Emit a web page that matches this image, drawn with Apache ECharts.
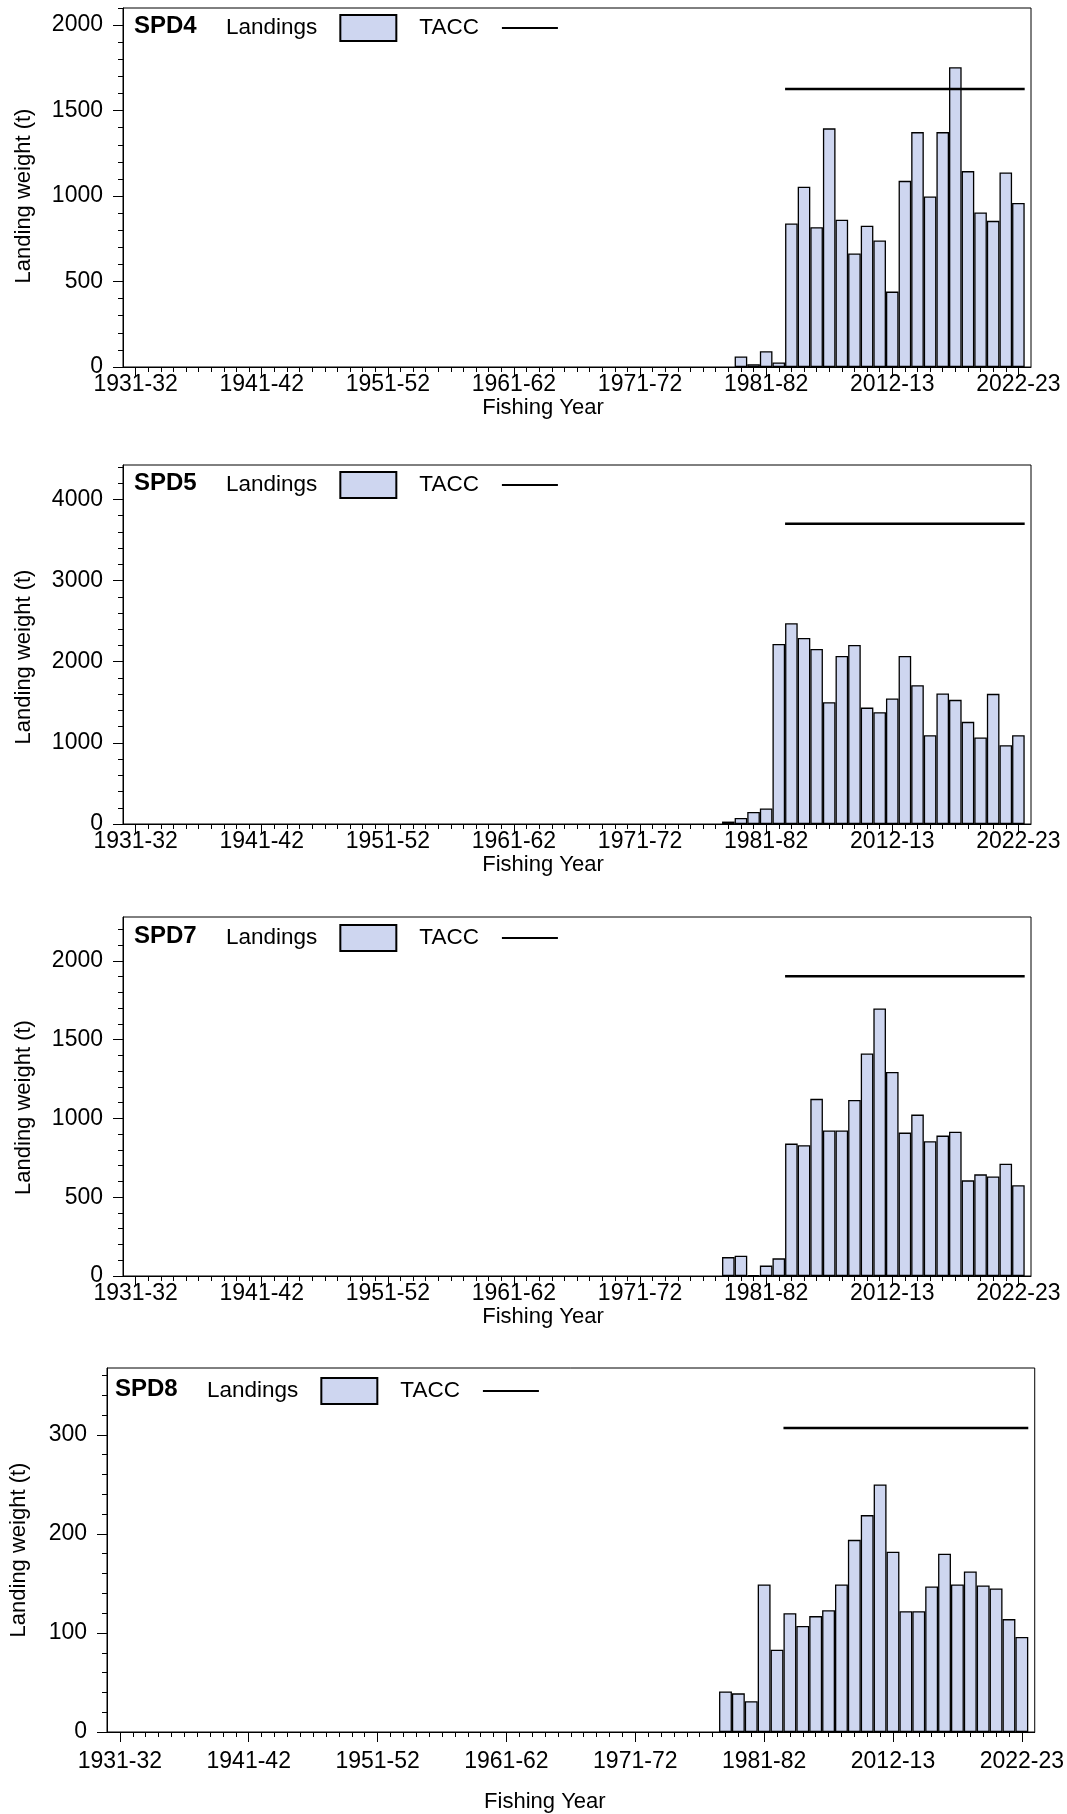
<!DOCTYPE html>
<html><head><meta charset="utf-8">
<script src="https://cdn.jsdelivr.net/npm/echarts@6/dist/echarts.min.js"></script>
<style>html,body{margin:0;padding:0;background:#fff}#c{width:1067px;height:1814px}</style>
</head><body><div id="c"></div><script>
// ---------- categories ----------
const historicYears = ['1931-32','1932-33','1933-34','1934-35','1935-36','1936-37','1937-38','1938-39','1939-40','1940-41',
 '1941-42','1942-43','1943-44','1944-45','1945-46','1946-47','1947-48','1948-49','1949-50','1950-51',
 '1951-52','1952-53','1953-54','1954-55','1955-56','1956-57','1957-58','1958-59','1959-60','1960-61',
 '1961-62','1962-63','1963-64','1964-65','1965-66','1966-67','1967-68','1968-69','1969-70','1970-71',
 '1971-72','1972-73','1973-74','1974-75','1975-76','1976-77','1977-78','1978-79','1979-80','1980-81',
 '1981-82','1982-83'];
const modernYears = ['2004-05','2005-06','2006-07','2007-08','2008-09','2009-10','2010-11','2011-12','2012-13','2013-14',
 '2014-15','2015-16','2016-17','2017-18','2018-19','2019-20','2020-21','2021-22','2022-23'];
const categories = [''].concat(historicYears, modernYears, [' ']);
const xTickLabels = ['1931-32','1941-42','1951-52','1961-62','1971-72','1981-82','2012-13','2022-23'];

// ---------- values ----------
const earlyYears = ['1978-79','1979-80','1980-81','1981-82','1982-83'];
const spd4Early  = [null, 62, 16, 92, 27];
const spd4Modern = [839,1054,818,1396,861,664,826,740,441,1089,1374,997,1374,1753,1146,904,855,1138,960];
const spd5Early  = [30, 74, 148, 192, 2219];
const spd5Modern = [2474,2293,2158,1501,2071,2207,1435,1378,1546,2071,1711,1095,1608,1530,1259,1066,1604,972,1095];
const spd7Early  = [120, 129, 6, 66, 112];
const spd7Modern = [840,830,1124,923,923,1117,1412,1697,1295,910,1024,855,891,916,607,645,631,713,576];
const spd8Early  = [41, 39, 31, 149, 83];
const spd8Modern = [120,107,117,123,149,194,219,250,182,122,122,147,180,149,162,148,145,114,96];
const taccSPD4 = 1626, taccSPD5 = 3700, taccSPD7 = 1902, taccSPD8 = 307;

// ---------- y tick labels ----------
const yTicksSPD4 = [0,500,1000,1500,2000];
const yTicksSPD5 = [0,1000,2000,3000,4000];
const yTicksSPD7 = [0,500,1000,1500,2000];
const yTicksSPD8 = [0,100,200,300];

const panels = [
 {name:'SPD4', early:spd4Early, modern:spd4Modern, tacc:taccSPD4, yTicks:yTicksSPD4, yMax:2100, minor:100,
  grid:{left:123,right:36,top:8,height:359}, lm:6, ng:27, yng:88, yShift:17, xShift:34, lo:19},
 {name:'SPD5', early:spd5Early, modern:spd5Modern, tacc:taccSPD5, yTicks:yTicksSPD5, yMax:4425, minor:200,
  grid:{left:123,right:36,top:465,height:359}, lm:6, ng:27, yng:88, yShift:25, xShift:34, lo:19},
 {name:'SPD7', early:spd7Early, modern:spd7Modern, tacc:taccSPD7, yTicks:yTicksSPD7, yMax:2278, minor:100,
  grid:{left:123,right:36,top:917,height:359}, lm:6, ng:27, yng:88, yShift:22, xShift:34, lo:20},
 {name:'SPD8', early:spd8Early, modern:spd8Modern, tacc:taccSPD8, yTicks:yTicksSPD8, yMax:367.5, minor:20,
  grid:{left:104,right:31,top:1368,height:364}, lm:18, ng:59, yng:77, yShift:0, xShift:26, lo:22}
];

const FONT = '"Liberation Sans", Arial, sans-serif';
const option = {animation:false, textStyle:{fontFamily:FONT}, grid:[], xAxis:[], yAxis:[], series:[], title:[], legend:[]};

panels.forEach((p, i) => {
  const barData = categories.map(c => {
    let k = earlyYears.indexOf(c);
    if (k >= 0) return p.early[k];
    k = modernYears.indexOf(c);
    if (k >= 0) return p.modern[k];
    return null;
  });
  const taccStart = categories.indexOf(modernYears[0]) - 0.5;
  const taccEnd = categories.indexOf(modernYears[modernYears.length - 1]) + 0.5;
  const minorTicks = [];
  for (let v = 0; v <= p.yMax + 1e-9; v += p.minor) minorTicks.push(+v.toFixed(6));

  option.grid.push(Object.assign({show:true, borderColor:'#000', borderWidth:1, backgroundColor:'rgba(0,0,0,0)'}, p.grid));

  option.xAxis.push({
    type:'category', gridIndex:i, position:'bottom', data:categories, boundaryGap:false,
    axisLine:{show:true, lineStyle:{color:'#000', width:1}},
    axisTick:{show:true, length:10, interval:(idx, val) => xTickLabels.indexOf(val) >= 0, lineStyle:{color:'#000'}},
    axisLabel:{interval:(idx, val) => xTickLabels.indexOf(val) >= 0, fontSize:23, color:'#000', margin:p.lm, fontFamily:FONT},
    splitLine:{show:false},
    name:'Fishing Year', nameLocation:'middle', nameGap:p.ng,
    nameTextStyle:{fontSize:22, color:'#000', fontFamily:FONT, padding:[0, 2*p.xShift, 0, 0]}
  });
  option.xAxis.push({
    type:'category', gridIndex:i, position:'bottom', data:categories, boundaryGap:false,
    axisLine:{show:false},
    axisTick:{show:true, length:5, interval:(idx) => idx >= 1 && idx <= categories.length - 2, lineStyle:{color:'#000'}},
    axisLabel:{show:false}, splitLine:{show:false}
  });
  option.xAxis.push({type:'value', gridIndex:i, position:'bottom', min:0, max:categories.length - 1, show:false});

  option.yAxis.push({
    type:'value', gridIndex:i, position:'left', min:0, max:p.yMax, interval:p.yTicks[1] - p.yTicks[0],
    axisLine:{show:true, lineStyle:{color:'#000', width:1}},
    axisTick:{show:true, length:10, customValues:p.yTicks, lineStyle:{color:'#000'}},
    axisLabel:{customValues:p.yTicks, fontSize:23, color:'#000', margin:20, fontFamily:FONT, formatter:(v) => String(v)},
    splitLine:{show:false},
    name:'Landing weight (t)', nameLocation:'middle', nameGap:p.yng, nameRotate:90, nameMoveOverlap:false,
    nameTextStyle:{fontSize:22, color:'#000', fontFamily:FONT, padding:[0, p.yShift, 0, 0]}
  });
  option.yAxis.push({
    type:'value', gridIndex:i, position:'left', min:0, max:p.yMax, interval:p.minor,
    axisLine:{show:false},
    axisTick:{show:true, length:5, customValues:minorTicks, lineStyle:{color:'#000'}},
    axisLabel:{show:false}, splitLine:{show:false}
  });

  option.series.push({
    type:'bar', name:'Landings', xAxisIndex:3*i, yAxisIndex:2*i, data:barData,
    barWidth:'100%', barGap:'0%',
    itemStyle:{color:'#ced6f0', borderColor:'#000', borderWidth:1.3}, z:2
  });
  option.series.push({
    type:'line', name:'TACC', xAxisIndex:3*i+2, yAxisIndex:2*i,
    data:[[taccStart, p.tacc], [taccEnd, p.tacc]],
    symbol:'none', lineStyle:{color:'#000', width:2.5}, itemStyle:{color:'#000'}, z:3
  });

  option.title.push({
    text:p.name, left:p.grid.left + 11, top:p.grid.top + p.lo - 13, padding:0,
    textStyle:{fontSize:24, fontWeight:'bold', color:'#000', fontFamily:FONT}
  });
  option.legend.push({
    data:[{name:'Landings', icon:'rect'}, {name:'TACC', icon:'path://M0,0L100,0L100,4L0,4Z'}],
    left:p.grid.left + 103, top:p.grid.top + p.lo - 13,
    align:'right', orient:'horizontal', itemWidth:56, itemHeight:26, itemGap:22, padding:0,
    selectedMode:false, symbolKeepAspect:true,
    textStyle:{fontSize:22.5, color:'#000', fontFamily:FONT, padding:[0, 18, 0, 0]}
  });
});

const chart = echarts.init(document.getElementById('c'));
chart.setOption(option);
</script></body></html>
